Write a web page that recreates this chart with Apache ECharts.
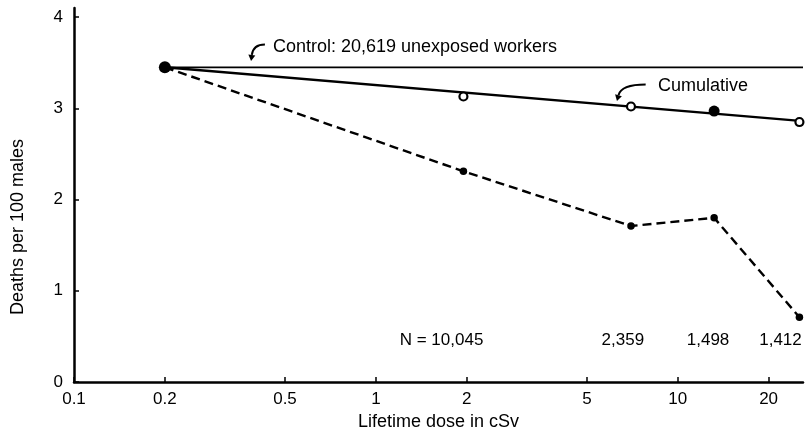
<!DOCTYPE html>
<html><head><meta charset="utf-8">
<script src="https://cdn.jsdelivr.net/npm/echarts@6/dist/echarts.min.js"></script>
<style>html,body{margin:0;padding:0;background:#fff}#c{width:807px;height:436px}</style>
</head><body><div id="c"></div><script>
const xTicks = [0.1, 0.2, 0.5, 1, 2, 5, 10, 20];
const yTicks = [0, 1, 2, 3, 4];
const controlDose = [0.2, 26];
const controlRate = [3.45, 3.45];
const cumFitDose = [0.2, 26];
const cumFitRate = [3.45, 2.86];
const cumOpenDose = [1.95, 7.0, 25.3];
const cumOpenRate = [3.13, 3.02, 2.85];
const cumFilledDose = [13.2];
const cumFilledRate = [2.97];
const startDose = [0.2];
const startRate = [3.45];
const groupDose = [0.2, 1.95, 7.0, 13.2, 25.3];
const groupRate = [3.45, 2.31, 1.71, 1.80, 0.71];
const nLabels = ['N = 10,045', '2,359', '1,498', '1,412'];
const nDose = [1.65, 6.58, 12.6, 21.9];
const nRate = [0.46, 0.46, 0.46, 0.46];
const annoText = ['Control: 20,619 unexposed workers', 'Cumulative'];
const annoDose = [0.456, 8.6];
const annoRate = [3.675, 3.24];
// arrows: [startDose, startRate, endDose, endRate]
const arrowControl = [0.429, 3.70, 0.386, 3.52];
const arrowCum = [7.83, 3.26, 6.29, 3.08];

const zip = (a, b) => a.map((v, i) => [v, b[i]]);
const FONT = 'Liberation Sans, Arial, sans-serif';
const INK = '#000';

const chart = echarts.init(document.getElementById('c'), null, {renderer: 'canvas'});
chart.setOption({
  animation: false,
  backgroundColor: '#fff',
  grid: {left: 74, right: 4, top: 8, bottom: 52, containLabel: false},
  xAxis: {
    type: 'log', logBase: 10, min: 0.1, max: 26,
    name: 'Lifetime dose in cSv', nameLocation: 'middle', nameGap: 31,
    nameTextStyle: {fontFamily: FONT, fontSize: 18, color: INK},
    axisLine: {show: true, onZero: false, lineStyle: {color: INK, width: 2.5}},
    axisTick: {show: true, inside: true, length: 5, lineStyle: {color: INK, width: 1.5}, customValues: xTicks},
    axisLabel: {show: true, customValues: xTicks, margin: 9, fontFamily: FONT, fontSize: 17, color: INK,
      formatter: v => String(+(+v).toPrecision(3))},
    splitLine: {show: false}, minorTick: {show: false}
  },
  yAxis: {
    type: 'value', min: 0, max: 4.1,
    axisLine: {show: true, onZero: false, lineStyle: {color: INK, width: 2.5}},
    axisTick: {show: true, inside: true, length: 5, lineStyle: {color: INK, width: 1.5}, customValues: yTicks},
    axisLabel: {show: true, customValues: yTicks, margin: 11, fontFamily: FONT, fontSize: 17, color: INK},
    splitLine: {show: false}
  },
  series: [
    {type: 'line', data: zip(controlDose, controlRate), showSymbol: false, symbol: 'none',
      lineStyle: {color: INK, width: 1.8}, z: 2},
    {type: 'line', data: zip(cumFitDose, cumFitRate), showSymbol: false, symbol: 'none',
      lineStyle: {color: INK, width: 2.4}, z: 2},
    {type: 'line', data: zip(groupDose, groupRate), symbol: 'circle', symbolSize: 7.5, showSymbol: true,
      itemStyle: {color: INK, opacity: 1}, lineStyle: {color: INK, width: 2.4, type: [9, 5]}, z: 3},
    {type: 'scatter', data: zip(cumOpenDose, cumOpenRate), symbol: 'circle', symbolSize: 8,
      itemStyle: {color: '#fff', borderColor: INK, borderWidth: 2.2, opacity: 1}, z: 4},
    {type: 'scatter', data: zip(cumFilledDose, cumFilledRate), symbol: 'circle', symbolSize: 11,
      itemStyle: {color: INK, opacity: 1}, z: 4},
    {type: 'scatter', data: zip(startDose, startRate), symbol: 'circle', symbolSize: 12,
      itemStyle: {color: INK, opacity: 1}, z: 5},
    {type: 'scatter', symbolSize: 0, silent: true, clip: false, itemStyle: {opacity: 1},
      data: nLabels.map((t, i) => ({name: t, value: [nDose[i], nRate[i]]})),
      label: {show: true, position: 'inside', formatter: p => p.name, fontFamily: FONT, fontSize: 17, color: INK, opacity: 1}},
    {type: 'scatter', symbolSize: 0, silent: true, clip: false, itemStyle: {opacity: 1},
      data: annoText.map((t, i) => ({name: t, value: [annoDose[i], annoRate[i]]})),
      label: {show: true, position: 'right', distance: 0, formatter: p => p.name, fontFamily: FONT, fontSize: 18, color: INK, opacity: 1}}
  ]
});

function arrowGraphics(a) {
  const s = chart.convertToPixel({gridIndex: 0}, [a[0], a[1]]);
  const e = chart.convertToPixel({gridIndex: 0}, [a[2], a[3]]);
  const cp = [e[0] + (s[0] - e[0]) * 0.15, s[1]];
  const dx = e[0] - cp[0], dy = e[1] - cp[1];
  const L = Math.hypot(dx, dy) || 1;
  const ux = dx / L, uy = dy / L;
  const hl = 6, hw = 3.5;
  const bx = e[0] - ux * hl, by = e[1] - uy * hl;
  return [
    {type: 'bezierCurve', shape: {x1: s[0], y1: s[1], x2: bx, y2: by, cpx1: cp[0], cpy1: cp[1]},
      style: {stroke: INK, lineWidth: 2, fill: null}, z: 10},
    {type: 'polygon', shape: {points: [[e[0], e[1]], [bx - uy * hw, by + ux * hw], [bx + uy * hw, by - ux * hw]]},
      style: {fill: INK}, z: 10}
  ];
}

chart.setOption({
  graphic: [
    {type: 'text', x: 18.5, y: 227, rotation: Math.PI / 2,
      style: {text: 'Deaths per 100 males', font: '18px ' + FONT, fill: INK, align: 'center', verticalAlign: 'middle'}},
    ...arrowGraphics(arrowControl),
    ...arrowGraphics(arrowCum)
  ]
});
</script></body></html>
